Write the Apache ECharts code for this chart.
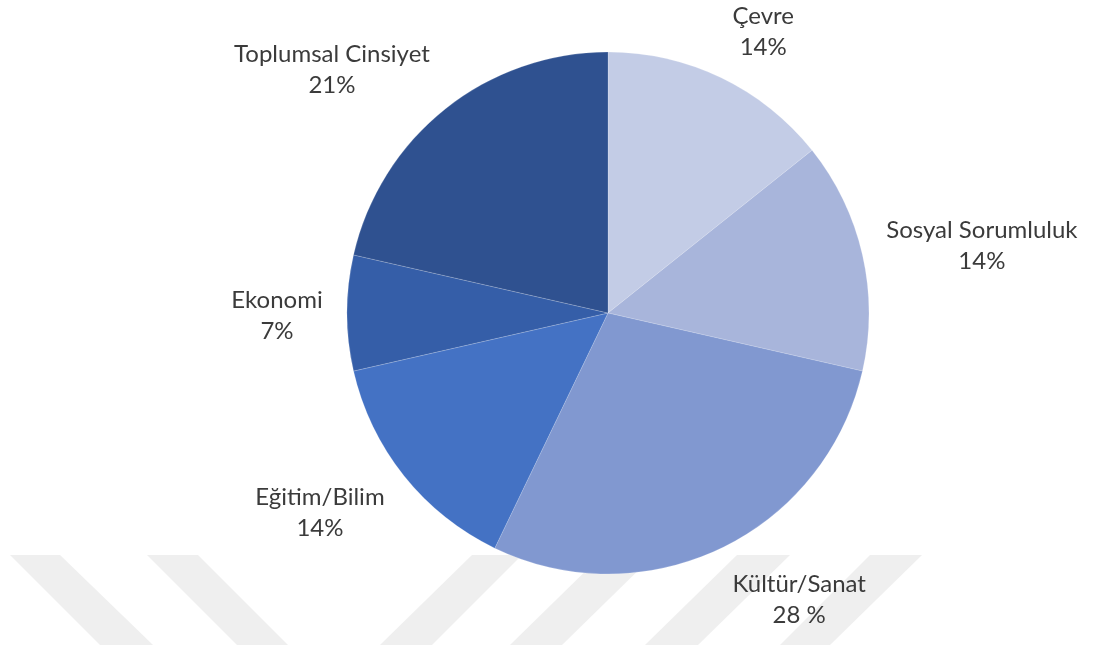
<!DOCTYPE html>
<html>
<head>
<meta charset="utf-8">
<script src="https://cdn.jsdelivr.net/npm/echarts@6/dist/echarts.min.js"></script>
<style>
  html, body { margin: 0; padding: 0; background: #fff; }
  #chart { width: 1094px; height: 648px; }
</style>
</head>
<body>
<div id="chart"></div>
<script>
// Topic shares (percent), clockwise from 12 o'clock
const categories = ['Çevre', 'Sosyal Sorumluluk', 'Kültür/Sanat', 'Eğitim/Bilim', 'Ekonomi', 'Toplumsal Cinsiyet'];
const shares = [14, 14, 28, 14, 7, 21];
const percentLabels = ['14%', '14%', '28 %', '14%', '7%', '21%'];
const sliceColors = ['#c3cce6', '#a8b5db', '#8198d0', '#4472c4', '#355ea8', '#2f5190'];

const CX = 608, CY = 313, R = 261, GAP = 23;
const LABEL_FONT = 'Lato, "Open Sans", sans-serif';
const LABEL_SIZE = 24;
const total = shares.reduce((a, b) => a + b, 0);

// mid angle of each slice, measured clockwise from the top
const midAngles = [];
let acc = 0;
shares.forEach(v => {
  midAngles.push(((acc + v / 2) / total) * 2 * Math.PI);
  acc += v;
});

// measure each two-line label so the pie layout never truncates it
const ctx = document.createElement('canvas').getContext('2d');
ctx.font = LABEL_SIZE + 'px ' + LABEL_FONT;
const labelWidths = categories.map((c, i) =>
  Math.ceil(Math.max(ctx.measureText(c).width, ctx.measureText(percentLabels[i]).width)) + 2);

// light diagonal band pattern along the bottom edge
const bandTop = 555, bandBottom = 645;
const bands = [
  [[10, 60], [100, 153]],
  [[147, 198], [237, 288]],
  [[472, 522], [380, 432]],
  [[602, 654], [510, 562]],
  [[737, 790], [645, 698]],
  [[870, 922], [780, 830]]
];
const bandGraphics = bands.map(b => ({
  type: 'polygon',
  silent: true,
  z: -10,
  shape: { points: [[b[0][0], bandTop], [b[0][1], bandTop], [b[1][1], bandBottom], [b[1][0], bandBottom]] },
  style: { fill: '#efefef' }
}));

const chart = echarts.init(document.getElementById('chart'), null, { renderer: 'canvas' });
chart.setOption({
  backgroundColor: '#ffffff',
  animation: false,
  graphic: bandGraphics,
  series: [{
    type: 'pie',
    center: [CX, CY],
    radius: R,
    startAngle: 90,
    clockwise: true,
    z: 2,
    data: categories.map((name, i) => ({
      name: name,
      value: shares[i],
      itemStyle: { color: sliceColors[i] },
      label: { width: labelWidths[i] }
    })),
    itemStyle: { borderColor: 'rgba(255,255,255,0.35)', borderWidth: 0.5 },
    label: {
      show: true,
      position: 'outside',
      alignTo: 'none',
      overflow: 'none',
      formatter: p => p.name + '\n' + percentLabels[p.dataIndex],
      fontFamily: LABEL_FONT,
      fontSize: LABEL_SIZE,
      lineHeight: 31,
      color: '#3b3b3b',
      align: 'center'
    },
    labelLine: { show: false },
    // outside-end placement: the label corner nearest the pie sits on the slice's mid ray
    labelLayout: function (params) {
      const a = midAngles[params.dataIndex];
      const w = params.labelRect.width, h = params.labelRect.height;
      const sx = Math.sin(a), sy = -Math.cos(a);
      const d = R + GAP;
      const kx = Math.abs(sx) < 1e-6 ? 0 : Math.sign(sx);
      return {
        x: CX + sx * d + kx * w / 2,
        y: CY + sy * d + sy * h / 2 + 3,
        align: 'center',
        verticalAlign: 'middle'
      };
    },
    emphasis: { disabled: true }
  }]
});
</script>
</body>
</html>
